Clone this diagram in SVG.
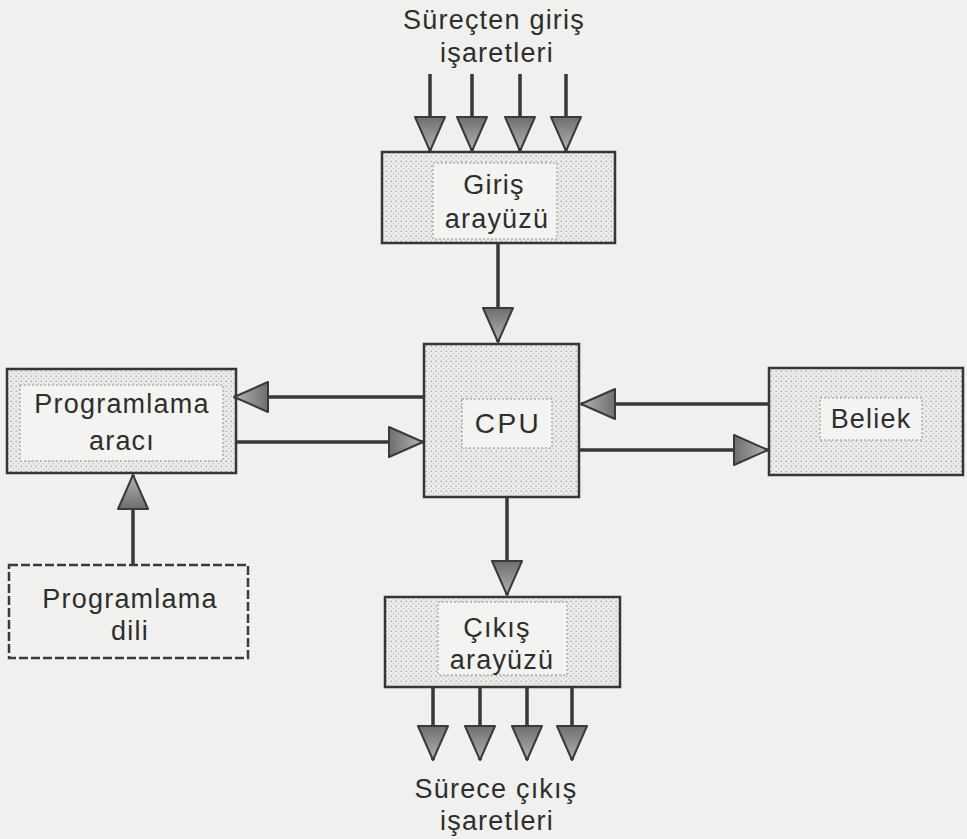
<svg xmlns="http://www.w3.org/2000/svg" width="967" height="839" viewBox="0 0 967 839">
  <defs>
    <!-- stippled screen used inside the boxes -->
    <pattern id="stipple" width="5" height="5" patternUnits="userSpaceOnUse">
      <rect width="5" height="5" fill="#ebebe9"/>
      <circle cx="1.2" cy="1.2" r="0.8" fill="#a4a4a2"/>
      <circle cx="3.7" cy="3.7" r="0.6" fill="#b8b8b6"/>
    </pattern>
    <linearGradient id="headFill" x1="0" y1="0" x2="1" y2="0">
      <stop offset="0" stop-color="#6e6e6c"/>
      <stop offset="1" stop-color="#b4b4b2"/>
    </linearGradient>
    <marker id="head" viewBox="0 0 36 32" refX="35" refY="16" markerWidth="36" markerHeight="32" markerUnits="userSpaceOnUse" orient="auto">
      <path d="M1,1 L35,16 L1,31 Z" fill="url(#headFill)" stroke="#3a3a38" stroke-width="2" stroke-linejoin="round"/>
    </marker>
    <style>
      .box { fill: url(#stipple); stroke: #363634; stroke-width: 2.5; }
      .dash { fill: #f1f1ef; stroke: #3c3c3a; stroke-width: 2.5; stroke-dasharray: 9 3; }
      .inner { fill: #f3f3f1; stroke: #b0b0ae; stroke-width: 1.5; stroke-dasharray: 2 2; }
      .wire { fill: none; stroke: #383836; stroke-width: 3.5; marker-end: url(#head); }
      .lbl { font-family: "Liberation Sans", Arial, Helvetica, sans-serif; font-size: 27px; fill: #2e2e2c; text-anchor: middle; letter-spacing: 1.2px; }
    </style>
  </defs>

  <rect width="967" height="839" fill="#f0f0ee"/>

  <!-- process input signals -->
  <g id="input-signals">
    <text class="lbl" x="494" y="29">Süreçten giriş</text>
    <text class="lbl" x="497" y="62">işaretleri</text>
  </g>

  <g id="input-interface">
    <rect class="box" x="382" y="152" width="233" height="91"/>
    <rect class="inner" x="433" y="163" width="124" height="76"/>
    <text class="lbl" x="494" y="194">Giriş</text>
    <text class="lbl" x="497" y="228">arayüzü</text>
  </g>

  <g id="cpu">
    <rect class="box" x="424" y="344" width="155" height="153"/>
    <rect class="inner" x="462" y="399" width="90" height="49"/>
    <text class="lbl" x="508" y="433" style="font-size:28px;letter-spacing:2.5px">CPU</text>
  </g>

  <g id="programming-tool">
    <rect class="box" x="7" y="369" width="229" height="104"/>
    <rect class="inner" x="20" y="385" width="203" height="76"/>
    <text class="lbl" x="122" y="413">Programlama</text>
    <text class="lbl" x="122" y="450">aracı</text>
  </g>

  <g id="memory">
    <rect class="box" x="769" y="368" width="194" height="107"/>
    <rect class="inner" x="820" y="398" width="102" height="42"/>
    <text class="lbl" x="871" y="428">Beliek</text>
  </g>

  <g id="programming-language">
    <rect class="dash" x="9" y="565" width="239" height="93"/>
    <text class="lbl" x="130" y="608">Programlama</text>
    <text class="lbl" x="130" y="640">dili</text>
  </g>

  <g id="output-interface">
    <rect class="box" x="385" y="597" width="235" height="90"/>
    <rect class="inner" x="438" y="602" width="129" height="73"/>
    <text class="lbl" x="497" y="637">Çıkış</text>
    <text class="lbl" x="502" y="669">arayüzü</text>
  </g>

  <g id="output-signals">
    <text class="lbl" x="496" y="798">Sürece çıkış</text>
    <text class="lbl" x="497" y="830">işaretleri</text>
  </g>

  <g id="connectors">
    <!-- four input signal lines -->
    <path class="wire" d="M430,74 V151"/>
    <path class="wire" d="M472,74 V151"/>
    <path class="wire" d="M520,74 V151"/>
    <path class="wire" d="M566,74 V151"/>
    <!-- input interface to CPU -->
    <path class="wire" d="M498,243 V342"/>
    <!-- CPU and programming tool -->
    <path class="wire" d="M424,397 H234"/>
    <path class="wire" d="M236,442 H423"/>
    <!-- CPU and memory -->
    <path class="wire" d="M769,404 H581"/>
    <path class="wire" d="M579,450 H768"/>
    <!-- language feeds the programming tool -->
    <path class="wire" d="M133,565 V475"/>
    <!-- CPU to output interface -->
    <path class="wire" d="M507,497 V595"/>
    <!-- four output signal lines -->
    <path class="wire" d="M433,687 V760"/>
    <path class="wire" d="M480,687 V760"/>
    <path class="wire" d="M527,687 V760"/>
    <path class="wire" d="M572,687 V760"/>
  </g>
</svg>
